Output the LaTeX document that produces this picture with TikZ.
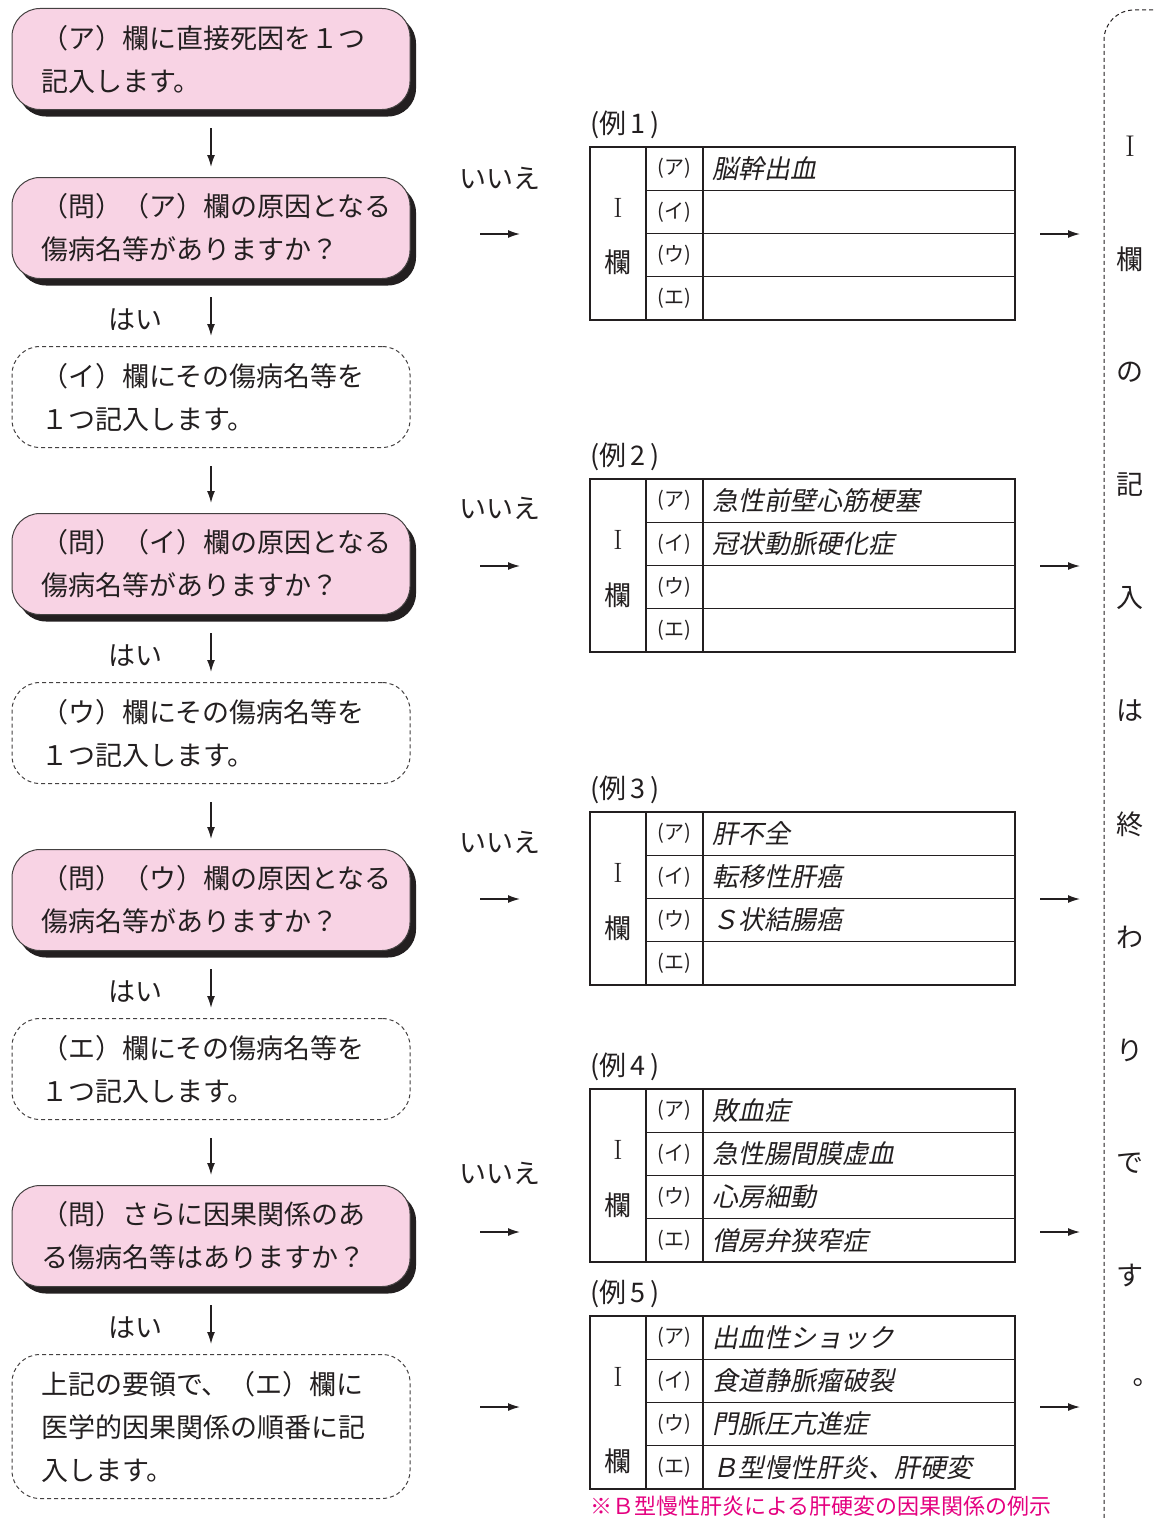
\documentclass[tikz,border=0pt]{standalone}
\usepackage{fontspec}
\usepackage{tikz}
\usetikzlibrary{positioning,shadows,arrows.meta}
\newfontfamily\jp{Noto Sans CJK JP}
\newfontfamily\jpit[FakeSlant=0.2]{Noto Sans CJK JP}
\definecolor{pinkbox}{RGB}{248,211,228}
\definecolor{notered}{RGB}{228,0,127}
\definecolor{ink}{RGB}{35,31,32}

\begin{document}
\begin{tikzpicture}[x=1pt,y=-1pt]
\tikzstyle{askbox}=[draw=ink!85,line width=1pt,fill=pinkbox,rounded corners=28pt,minimum width=398pt,minimum height=101pt,text width=340pt,align=left,text=ink,font=\jp\fontsize{27}{43}\selectfont,drop shadow={shadow xshift=6pt,shadow yshift=-7pt,fill=ink,opacity=1}]
\tikzstyle{recbox}=[draw=ink!85,line width=1pt,dash pattern=on 4pt off 3pt,rounded corners=28pt,minimum width=398pt,minimum height=101pt,text width=340pt,align=left,text=ink,font=\jp\fontsize{27}{43}\selectfont]
\tikzstyle{plain}=[text=ink,font=\jp\fontsize{27}{27}\selectfont]
\tikzstyle{tag}=[inner sep=0pt,text=ink,font=\jp\fontsize{20}{20}\selectfont]
\tikzstyle{entry}=[anchor=west,inner sep=0pt,text=ink,font=\jpit\fontsize{26}{26}\selectfont]
\tikzstyle{cell}=[draw=ink,line width=1.3pt]
\tikzstyle{flow}=[line width=1.4pt,draw=ink,-{Latex[length=12pt,width=8pt]}]
\useasboundingbox (0,0) rectangle (1155,1520);

% left column: questions and records
\node [askbox] at (211,59) (b1) {（ア）欄に直接死因を１つ\\記入します。};
\node [askbox,below=67pt of b1] (b2) {（問）（ア）欄の原因となる\\傷病名等がありますか？};
\node [recbox,below=67pt of b2] (b3) {（イ）欄にその傷病名等を\\１つ記入します。};
\node [askbox,below=65pt of b3] (b4) {（問）（イ）欄の原因となる\\傷病名等がありますか？};
\node [recbox,below=67pt of b4] (b5) {（ウ）欄にその傷病名等を\\１つ記入します。};
\node [askbox,below=65pt of b5] (b6) {（問）（ウ）欄の原因となる\\傷病名等がありますか？};
\node [recbox,below=67pt of b6] (b7) {（エ）欄にその傷病名等を\\１つ記入します。};
\node [askbox,below=65pt of b7] (b8) {（問）さらに因果関係のあ\\る傷病名等はありますか？};
\node [recbox,minimum height=144pt,below=67pt of b8] (b9) {上記の要領で、（エ）欄に\\医学的因果関係の順番に記\\入します。};
\draw [flow,shorten <=18pt,shorten >=10pt] (b1) -- (b2);
\draw [flow,shorten <=18pt,shorten >=10pt] (b2) -- node [plain,pos=0.6,left=44pt] (y1) {はい} (b3);
\draw [flow,shorten <=18pt,shorten >=10pt] (b3) -- (b4);
\draw [flow,shorten <=18pt,shorten >=10pt] (b4) -- node [plain,pos=0.6,left=44pt] (y2) {はい} (b5);
\draw [flow,shorten <=18pt,shorten >=10pt] (b5) -- (b6);
\draw [flow,shorten <=18pt,shorten >=10pt] (b6) -- node [plain,pos=0.6,left=44pt] (y3) {はい} (b7);
\draw [flow,shorten <=18pt,shorten >=10pt] (b7) -- (b8);
\draw [flow,shorten <=18pt,shorten >=10pt] (b8) -- node [plain,pos=0.6,left=44pt] (y4) {はい} (b9);

% examples
\foreach \t/\r [count=\n] in {147/115,479/116,812/116,1089/116,1316/145} {
  \draw [cell] (590,\t) rectangle (1015,\t+173);
  \draw [cell] (646,\t) -- (646,\t+173) (703,\t) -- (703,\t+173);
  \foreach \k in {1,2,3}
    \draw [cell] (646,\t+43.25*\k) -- (1015,\t+43.25*\k);
  \foreach \kana [count=\k] in {ア,イ,ウ,エ}
    \node [tag] (c\n\k) at (674,\t-21.6+43.25*\k) {(\kana)};
  \node [plain,anchor=west,inner sep=0pt] (x\n) at (590,\t-22) {(例\,\n\,)};
  \node [plain,font=\rmfamily\fontsize{28}{28}\selectfont] (i\n) at (618,\t+61) {I};
  \node [plain] (k\n) at (618,\t+\r) {欄};
}
\node [entry] (e1a) at (712,168.6) {脳幹出血};
\node [entry] (e2a) at (712,500.6) {急性前壁心筋梗塞};
\node [entry] (e2b) at (712,543.9) {冠状動脈硬化症};
\node [entry] (e3a) at (712,833.6) {肝不全};
\node [entry] (e3b) at (712,876.9) {転移性肝癌};
\node [entry] (e3c) at (712,920.1) {Ｓ状結腸癌};
\node [entry] (e4a) at (712,1110.6) {敗血症};
\node [entry] (e4b) at (712,1153.9) {急性腸間膜虚血};
\node [entry] (e4c) at (712,1197.1) {心房細動};
\node [entry] (e4d) at (712,1240.4) {僧房弁狭窄症};
\node [entry] (e5a) at (712,1337.6) {出血性ショック};
\node [entry] (e5b) at (712,1380.9) {食道静脈瘤破裂};
\node [entry] (e5c) at (712,1424.1) {門脈圧亢進症};
\node [entry] (e5d) at (712,1467.4) {Ｂ型慢性肝炎、肝硬変};
\node [plain,anchor=west,inner sep=0pt,text=notered,font=\jp\fontsize{22}{22}\selectfont] (note) at (590,1506) {※Ｂ型慢性肝炎による肝硬変の因果関係の例示};

% arrows in and out
\foreach \y [count=\n] in {178,508,842,1173}
  \node [plain] (no\n) at (500,\y) {いいえ};
\foreach \y [count=\n] in {234,566,899,1232,1407} {
  \coordinate (la\n) at (480,\y);
  \coordinate (lb\n) at (520,\y);
  \coordinate (ra\n) at (1040,\y);
  \coordinate (rb\n) at (1080,\y);
  \draw [flow] (la\n) -- (lb\n);
  \draw [flow] (ra\n) -- (rb\n);
}

% end of column I
\node [draw=ink,line width=1pt,dash pattern=on 4pt off 3pt,rounded corners=30pt,minimum width=100pt,minimum height=1560pt] (endbox) at (1154,790) {};
\foreach \c [count=\n] in {{\rmfamily\fontsize{30}{30}\selectfont I},欄,の,記,入,は,終,わ,り,で,す,︒}
  \node [plain] (v\n) at (1130,33+113*\n) {\c};
\end{tikzpicture}
\end{document}
